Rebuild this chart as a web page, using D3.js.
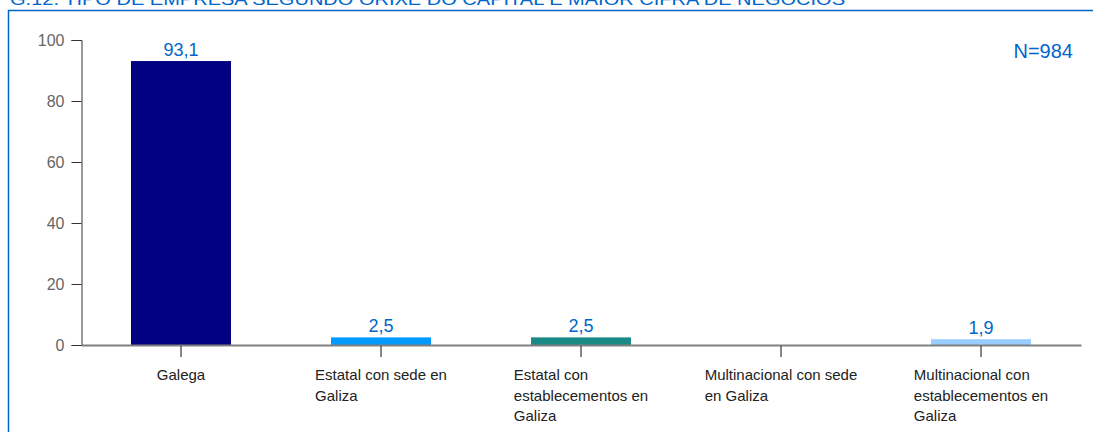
<!DOCTYPE html>
<html>
<head>
<meta charset="utf-8">
<script src="https://cdn.jsdelivr.net/npm/d3@7"></script>
<style>
  body { margin: 0; background: #fff; }
  svg { display: block; font-family: "Liberation Sans", Arial, sans-serif; }
</style>
</head>
<body>
<svg id="chart" width="1093" height="432"></svg>
<script>
// data
var categories = ["Galega", "Estatal con sede en Galiza", "Estatal con establecementos en Galiza",
                  "Multinacional con sede en Galiza", "Multinacional con establecementos en Galiza"];
var values = [93.1, 2.5, 2.5, 0, 1.9];
var labels = ["93,1", "2,5", "2,5", "", "1,9"];
var colors = ["#000080", "#0099ff", "#198a85", "#0099ff", "#99ccff"];
var yTicks = [0, 20, 40, 60, 80, 100];
var title = "G.12. TIPO DE EMPRESA SEGUNDO ORIXE DO CAPITAL E MAIOR CIFRA DE NEGOCIOS";
var note = "N=984";

var width = 1093, height = 432;
var svg = d3.select("#chart");

// title (cut at the top) and frame
svg.append("text")
    .attr("x", 10)
    .attr("y", 5)
    .attr("fill", "#0066cc")
    .style("font-size", "17px")
    .attr("textLength", 835)
    .attr("lengthAdjust", "spacingAndGlyphs")
    .text(title);

svg.append("path")
    .attr("d", "M8.5," + height + "V10.5H" + width)
    .attr("fill", "none")
    .attr("stroke", "#0066cc")
    .attr("stroke-width", 1.5);

// scales
var x = d3.scaleBand()
    .domain(categories)
    .range([81, 1081])
    .paddingInner(0.5)
    .paddingOuter(0.25);

var y = d3.scaleLinear()
    .domain([0, 100])
    .range([345, 40]);

// y axis
var yAxis = svg.append("g")
    .attr("transform", "translate(81.5,0)")
    .call(d3.axisLeft(y).tickValues(yTicks).tickSize(10).tickPadding(7));
yAxis.select(".domain").attr("stroke", "#333");
yAxis.selectAll(".tick line").attr("stroke", "#333");
yAxis.selectAll("text")
    .attr("fill", "#666")
    .style("font-size", "16px")
    .style("font-family", "Liberation Sans, Arial, sans-serif");

// bars
svg.selectAll("rect.bar")
    .data(values)
  .enter().append("rect")
    .attr("class", "bar")
    .attr("x", function(d, i) { return x(categories[i]); })
    .attr("y", function(d) { return y(d); })
    .attr("width", x.bandwidth())
    .attr("height", function(d) { return y(0) - y(d); })
    .attr("fill", function(d, i) { return colors[i]; });

// value labels
svg.selectAll("text.val")
    .data(values)
  .enter().append("text")
    .attr("class", "val")
    .attr("x", function(d, i) { return x(categories[i]) + x.bandwidth() / 2; })
    .attr("y", function(d) { return y(d) - 5.5; })
    .attr("text-anchor", "middle")
    .attr("fill", "#0066cc")
    .style("font-size", "18px")
    .text(function(d, i) { return labels[i]; });

// x axis
var xAxis = svg.append("g")
    .attr("transform", "translate(0,345)")
    .call(d3.axisBottom(x).tickSize(11).tickSizeOuter(0));
xAxis.select(".domain").attr("stroke", "#808080").attr("stroke-width", 2);
xAxis.selectAll(".tick line").attr("stroke", "#111").attr("transform", "translate(0,1)");
xAxis.selectAll(".tick text").remove();

// category labels, wrapped, block centred and lines left-aligned
var catG = svg.selectAll("g.cat")
    .data(categories)
  .enter().append("g")
    .attr("class", "cat");

catG.each(function(c) {
  var g = d3.select(this);
  var words = c.split(" "), lines = [], line = [];
  var probe = g.append("text").style("font-size", "15px");
  words.forEach(function(w) {
    var test = line.concat([w]).join(" ");
    probe.text(test);
    if (line.length && probe.node().getComputedTextLength() > 160) {
      lines.push(line.join(" "));
      line = [w];
    } else {
      line.push(w);
    }
  });
  lines.push(line.join(" "));
  var maxW = 0;
  lines.forEach(function(l) {
    probe.text(l);
    maxW = Math.max(maxW, probe.node().getComputedTextLength());
  });
  probe.remove();
  var left = x(c) + x.bandwidth() / 2 - maxW / 2;
  var t = g.append("text")
      .attr("fill", "#222")
      .style("font-size", "15px");
  lines.forEach(function(l, i) {
    t.append("tspan")
        .attr("x", left)
        .attr("y", 380 + i * 20.5)
        .text(l);
  });
});

// N label
svg.append("text")
    .attr("x", 1073)
    .attr("y", 58)
    .attr("text-anchor", "end")
    .attr("fill", "#0066cc")
    .style("font-size", "20px")
    .text(note);
</script>
</body>
</html>
